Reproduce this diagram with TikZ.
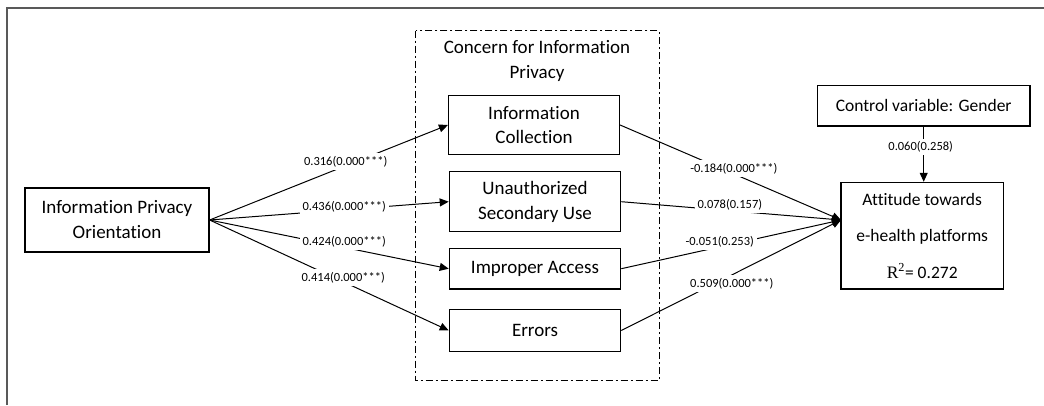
\documentclass[tikz,border=0pt]{standalone}
\usepackage{fontspec}
\setmainfont{Carlito}[Ligatures=NoCommon]
\newfontfamily\seriffont{Liberation Serif}
\usetikzlibrary{arrows.meta}
\begin{document}
\begin{tikzpicture}[x=1pt,y=-1pt,
  box/.style={draw=black,line width=1.2pt,inner sep=0pt,align=center,font=\fontsize{19}{25}\selectfont},
  conn/.style={line width=1pt,black},
  arr/.style={conn,-{Triangle[length=9pt,width=8pt]}},
  lbl/.style={fill=white,inner sep=3pt,font=\fontsize{12.5}{14}\selectfont},
]
\useasboundingbox (0,0) rectangle (1044,405);
% outer frame
\draw[line width=2pt,gray!70!black] (7,405) -- (7,7.5) -- (1044,7.5);
% concern box
\draw[line width=1pt,dash pattern=on 7pt off 3pt on 2pt off 3pt] (415.7,30.7) rectangle (659,380.7);
\node[align=center,font=\fontsize{19}{25}\selectfont] (cip) at (537,61) {Concern for Information\\Privacy};
% nodes
\node[box,minimum width=184pt,minimum height=64pt] (ipo) at (117,220) {Information Privacy\\Orientation};
\node[box,minimum width=171pt,minimum height=58.6pt,font=\fontsize{19}{24}\selectfont] (ic) at (534,125) {Information\\Collection};
\node[box,minimum width=171.4pt,minimum height=60pt] (usu) at (535,201.7) {Unauthorized\\Secondary Use};
\node[box,minimum width=171.4pt,minimum height=40.7pt] (ia) at (535,268.7) {Improper Access};
\node[box,minimum width=171.4pt,minimum height=42.4pt] (err) at (535,330.5) {Errors};
\node[box,minimum width=212.7pt,minimum height=40.7pt,font=\fontsize{17.5}{22}\selectfont] (cv) at (923.7,105.7) {Control variable: Gender};
\node[box,minimum width=162.3pt,minimum height=106.7pt,font=\fontsize{17.5}{36.5}\selectfont] (att) at (922.2,235.7) {Attitude towards\\e-health platforms\\{\seriffont R\textsuperscript{2}}= 0.272};
\coordinate (attin) at (841,220);
% left connectors
\draw[arr] (ipo.east) -- node[lbl,pos=0.571,yshift=4pt] {0.316(0.000***)} (ic.west);
\draw[arr] (ipo.east) -- node[lbl,pos=0.563,yshift=2.7pt] {0.436(0.000***)} (usu.west);
\draw[arr] (ipo.east) -- node[lbl,pos=0.563,yshift=6pt] {0.424(0.000***)} (ia.west);
\draw[arr] (ipo.east) -- node[lbl,pos=0.559,yshift=4pt] {0.414(0.000***)} (err.west);
% right connectors
\draw[arr] (ic.east) -- node[lbl,pos=0.515,yshift=5pt] {-0.184(0.000***)} (attin);
\draw[arr] (usu.east) -- node[lbl,pos=0.494,yshift=5.7pt] {0.078(0.157)} (attin);
\draw[arr] (ia.east) -- node[lbl,pos=0.448,yshift=5pt] {-0.051(0.253)} (attin);
\draw[arr] (err.east) -- node[lbl,pos=0.503,yshift=-9pt] {0.509(0.000***)} (attin);
% gender
\draw[arr] (cv.south) -- node[lbl,pos=0.37,xshift=-3pt] {0.060(0.258)} (cv.south |- att.north);
\end{tikzpicture}
\end{document}
